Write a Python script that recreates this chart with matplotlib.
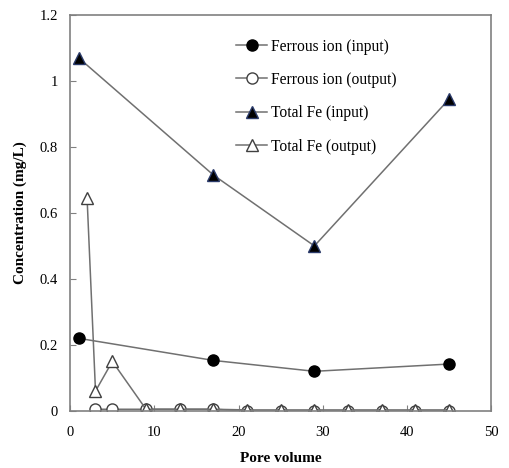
import matplotlib.pyplot as plt

# pore volume and concentration readings (mg/L)
pv_input = [1, 17, 29, 45]
ferrous_input = [0.22, 0.153, 0.12, 0.142]
total_fe_input = [1.07, 0.715, 0.50, 0.945]

pv_ferrous_out = [3, 5, 9, 13, 17, 21, 25, 29, 33, 37, 41, 45]
ferrous_output = [0.005, 0.005, 0.005, 0.005, 0.005, 0, 0, 0, 0, 0, 0, 0]

pv_total_out = [2, 3, 5, 9, 13, 17, 21, 25, 29, 33, 37, 41, 45]
total_fe_output = [0.645, 0.06, 0.15, 0.005, 0.005, 0.005, 0.003, 0.003, 0.003, 0.003, 0.003, 0.003, 0.003]

plt.rcParams['font.family'] = ['Liberation Serif', 'DejaVu Serif']

fig = plt.figure(figsize=(5.09, 4.68), dpi=100)
ax = fig.add_axes([0.138, 0.122, 0.827, 0.846])

line_color = '#707070'
ax.plot(pv_input, ferrous_input, color=line_color, lw=1.1, marker='o', ms=8,
        mfc='black', mec='black', label='Ferrous ion (input)')
ax.plot(pv_ferrous_out, ferrous_output, color=line_color, lw=1.1, marker='o', ms=8,
        mfc='white', mec='#404040', label='Ferrous ion (output)')
ax.plot(pv_input, total_fe_input, color=line_color, lw=1.1, marker='^', ms=8,
        mfc='black', mec='#2a3a6a', label='Total Fe (input)')
ax.plot(pv_total_out, total_fe_output, color=line_color, lw=1.1, marker='^', ms=8,
        mfc='white', mec='#404040', label='Total Fe (output)')

ax.set_xlim(0, 50)
ax.set_ylim(0, 1.2)
ax.set_xticks(range(0, 51, 10))
ax.set_yticks([0, 0.2, 0.4, 0.6, 0.8, 1.0, 1.2])
ax.set_yticklabels(['0', '0.2', '0.4', '0.6', '0.8', '1', '1.2'])
ax.tick_params(direction='in', length=4, color='#808080', labelsize=10.5)
ax.tick_params(axis='y', pad=9)
ax.tick_params(axis='x', pad=11)

for sp in ax.spines.values():
    sp.set_color('#808080')
    sp.set_linewidth(1.2)

ax.set_xlabel('Pore volume', fontsize=11, fontweight='bold', labelpad=9)
ax.set_ylabel('Concentration (mg/L)', fontsize=11, fontweight='bold', labelpad=9)

ax.legend(loc='upper left', bbox_to_anchor=(0.365, 0.972), frameon=False,
          fontsize=11.2, handlelength=2.0, handletextpad=0.2,
          labelspacing=1.12, borderaxespad=0.4)

fig.savefig('out.png', dpi=100)
